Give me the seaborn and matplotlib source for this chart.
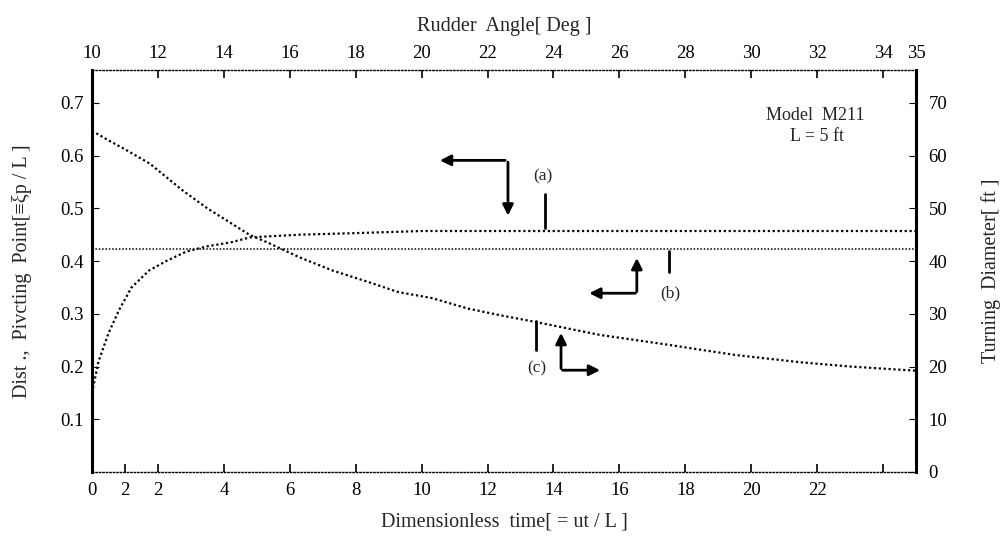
import numpy as np
import pandas as pd
import matplotlib
matplotlib.use("Agg")
import matplotlib.pyplot as plt
import seaborn as sns

# ---- data ----
time_dec = [0, 0.5, 1, 1.75, 2.75, 3.5, 4.8, 5.3, 6.3, 7.3, 8.3, 9.3, 10.3, 11.4,
            12.4, 13.5, 15.4, 17.4, 19.5, 21.5, 23, 25]
turning_diameter = [64.7, 62.9, 61.2, 58.5, 53.4, 50.0, 44.9, 43.6, 40.7, 38.2, 36.2,
                    34.1, 33.0, 31.0, 29.7, 28.4, 26.0, 24.2, 22.2, 20.8, 20.0, 19.2]

time_inc = [0, 0.1, 0.2, 0.5, 0.82, 1.2, 1.73, 2.25, 2.86, 3.5, 4.25, 4.8, 6.3, 8, 10, 25]
pivot_point = [0.15, 0.18, 0.21, 0.263, 0.307, 0.35, 0.382, 0.40, 0.418, 0.428, 0.436,
               0.445, 0.45, 0.453, 0.457, 0.457]

time_const = [0, 25]
pivot_const = [0.422, 0.422]

bottom_ticks = [0, 1, 2, 4, 6, 8, 10, 12, 14, 16, 18, 20, 22, 24]
bottom_labels = ["0", "2", "2", "4", "6", "8", "10", "12", "14", "16", "18", "20", "22", ""]
top_ticks = [0, 2, 4, 6, 8, 10, 12, 14, 16, 18, 20, 22, 24, 25]
top_labels = ["10", "12", "14", "16", "18", "20", "22", "24", "26", "28", "30", "32", "34", "35"]
left_ticks = [0.1, 0.2, 0.3, 0.4, 0.5, 0.6, 0.7]
left_labels = ["0.1", "0.2", "0.3", "0.4", "0.5", "0.6", "0.7"]
right_ticks = [0, 10, 20, 30, 40, 50, 60, 70]
right_labels = ["0", "10", "20", "30", "40", "50", "60", "70"]

df_dec = pd.DataFrame({"t": time_dec, "D": turning_diameter})
df_inc = pd.DataFrame({"t": time_inc, "p": pivot_point})
df_const = pd.DataFrame({"t": time_const, "p": pivot_const})

sns.set_theme(style="white")
plt.rcParams["font.family"] = ["Liberation Serif", "DejaVu Serif"]

fig = plt.figure(figsize=(10.01, 5.40), dpi=100)
ax = fig.add_axes([0.0919, 0.126, 0.8232, 0.744])
ax2 = ax.twinx()
axt = ax.twiny()

ax.set_xlim(0, 25)
ax.set_ylim(0, 0.762)
ax2.set_ylim(0, 76.2)
axt.set_xlim(0, 25)

dots = (0, (1, 1.2))
sns.lineplot(data=df_inc, x="t", y="p", ax=ax, color="black", lw=1.6,
             linestyle=dots, legend=False)
sns.lineplot(data=df_const, x="t", y="p", ax=ax, color="black", lw=1.1,
             linestyle=dots, legend=False)
sns.lineplot(data=df_dec, x="t", y="D", ax=ax2, color="black", lw=1.6,
             linestyle=dots, legend=False)

# spines: draw each only once
for a in (ax, ax2, axt):
    for s in a.spines.values():
        s.set_visible(False)
for a, s in ((ax, "bottom"), (axt, "top")):
    a.spines[s].set_visible(True)
    a.spines[s].set_linestyle((0, (1, 1.5)))
    a.spines[s].set_linewidth(1.0)
    a.spines[s].set_color("black")
for a, s in ((ax, "left"), (ax2, "right")):
    a.spines[s].set_visible(True)
    a.spines[s].set_linewidth(2.2)
    a.spines[s].set_color("black")

fs = 13.5
ax.set_xticks(bottom_ticks)
ax.set_xticklabels(bottom_labels, fontsize=fs)
ax.set_yticks(left_ticks)
ax.set_yticklabels(left_labels, fontsize=fs)
ax2.set_yticks(right_ticks)
ax2.set_yticklabels(right_labels, fontsize=fs)
axt.set_xticks(top_ticks)
axt.set_xticklabels(top_labels, fontsize=fs)

ax.tick_params(axis="x", direction="in", length=6, width=1.2, pad=7, colors="black")
ax.tick_params(axis="y", direction="in", length=5, width=0.8, pad=6, colors="black")
ax2.tick_params(axis="y", direction="in", length=5, width=0.8, pad=9, colors="black")
axt.tick_params(axis="x", direction="in", length=6, width=1.2, pad=6, colors="black")

lab_fs = 14.5
ax.set_xlabel("Dimensionless  time[ = ut / L ]", fontsize=lab_fs, labelpad=10)
ax.set_ylabel("Dist .,  Pivcting  Point[≡ξp / L ]", fontsize=lab_fs, labelpad=20)
ax2.set_ylabel("Turning  Diameter[ ft ]", fontsize=lab_fs, labelpad=24)
axt.set_xlabel("Rudder  Angle[ Deg ]", fontsize=lab_fs, labelpad=10)
ax.grid(False); ax2.grid(False); axt.grid(False)

# annotations (left-axis data coordinates)
blk = dict(color="black", lw=2.0)
arrow = dict(arrowstyle="-|>", color="black", lw=2.0, mutation_scale=16)

# (a)
ax.annotate("", xy=(10.47, 0.591), xytext=(12.62, 0.591), arrowprops=arrow)
ax.annotate("", xy=(12.62, 0.481), xytext=(12.62, 0.593), arrowprops=arrow)
ax.plot([13.74, 13.74], [0.462, 0.528], **blk)
ax.text(13.68, 0.561, "(a)", fontsize=12.5, ha="center", va="center")

# (b)
ax.annotate("", xy=(16.53, 0.411), xytext=(16.53, 0.337), arrowprops=arrow)
ax.annotate("", xy=(15.0, 0.339), xytext=(16.57, 0.339), arrowprops=arrow)
ax.plot([17.5, 17.5], [0.379, 0.420], **blk)
ax.text(17.54, 0.339, "(b)", fontsize=12.5, ha="center", va="center")

# (c)
ax.plot([13.47, 13.47], [0.231, 0.286], **blk)
ax.text(13.5, 0.197, "(c)", fontsize=12.5, ha="center", va="center")
ax.annotate("", xy=(14.23, 0.269), xytext=(14.23, 0.191), arrowprops=arrow)
ax.annotate("", xy=(15.5, 0.193), xytext=(14.19, 0.193), arrowprops=arrow)

# model text
ax.text(21.95, 0.676, "Model  M211", fontsize=13, ha="center", va="center")
ax.text(22.0, 0.636, "L = 5 ft", fontsize=13, ha="center", va="center")

fig.savefig("out.png", dpi=100)
